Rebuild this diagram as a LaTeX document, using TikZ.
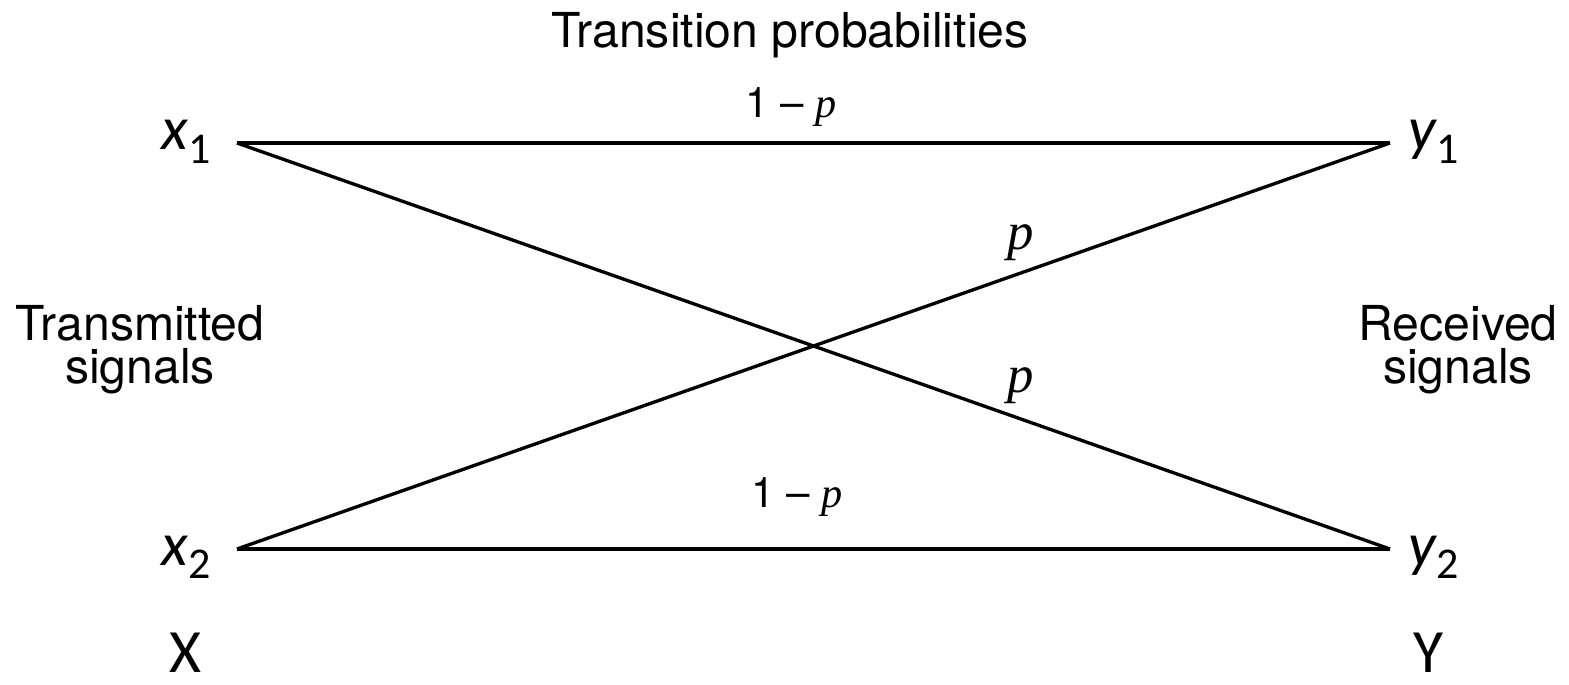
\documentclass[tikz,border=0pt]{standalone}
\usepackage{fontspec}
\setmainfont{TeX Gyre Heros}
\newfontfamily\calfont{Carlito}
\newfontfamily\timesfont{Liberation Serif}
\usetikzlibrary{positioning}

\newcommand{\symb}[2]{{\calfont\itshape #1\upshape\raisebox{-0.45ex}{\fontsize{12.5}{13}\selectfont #2}}}

\begin{document}
\begin{tikzpicture}[
  x=0.01cm,y=-0.01cm,
  channel/.style={line width=0.95pt},
  sym/.style={inner sep=0,font=\calfont\fontsize{17.5}{18}\selectfont},
  side/.style={inner sep=0,align=center,font=\fontsize{13.7}{12.3}\selectfont},
  prob/.style={inner sep=0,anchor=base,font=\timesfont\itshape\fontsize{15}{15}\selectfont},
  every node/.style={inner sep=0},
]
  \useasboundingbox (0,0) rectangle (1569,685);

  % line ends
  \foreach \i/\y in {1/143,2/549} {
    \coordinate (in\i) at (237,\y);
    \coordinate (out\i) at (1390,\y);
  }
  \foreach \a in {1,2}
    \foreach \b in {1,2}
      \draw[channel] (in\a) -- (out\b);

  \node[sym,anchor=base west] (x1) at (161,150) {\symb{x}{1}};
  \node[sym,anchor=base west] (x2) at (161,565) {\symb{x}{2}};
  \node[sym,anchor=base west] (y1) at (1408,150) {\symb{y}{1}};
  \node[sym,anchor=base west] (y2) at (1408,565) {\symb{y}{2}};
  \node[sym,anchor=base] (X) at (185,672) {X};
  \node[sym,anchor=base] (Y) at (1428,672) {Y};

  \node[side,anchor=base] (title) at (790,48) {Transition probabilities};
  \node[side] (tx) at (140,350) {Transmitted\\signals};
  \node[side] (rx) at (1458,350) {Received\\signals};

  \node[anchor=base,font=\fontsize{12}{12}\selectfont] (keep1) at (791,118) {1 -- {\timesfont\itshape p}};
  \node[anchor=base,font=\fontsize{12}{12}\selectfont] (keep2) at (797,508) {1 -- {\timesfont\itshape p}};
  \node[prob] (flip1) at (1021,250) {p};
  \node[prob] (flip2) at (1021,393) {p};
\end{tikzpicture}
\end{document}
